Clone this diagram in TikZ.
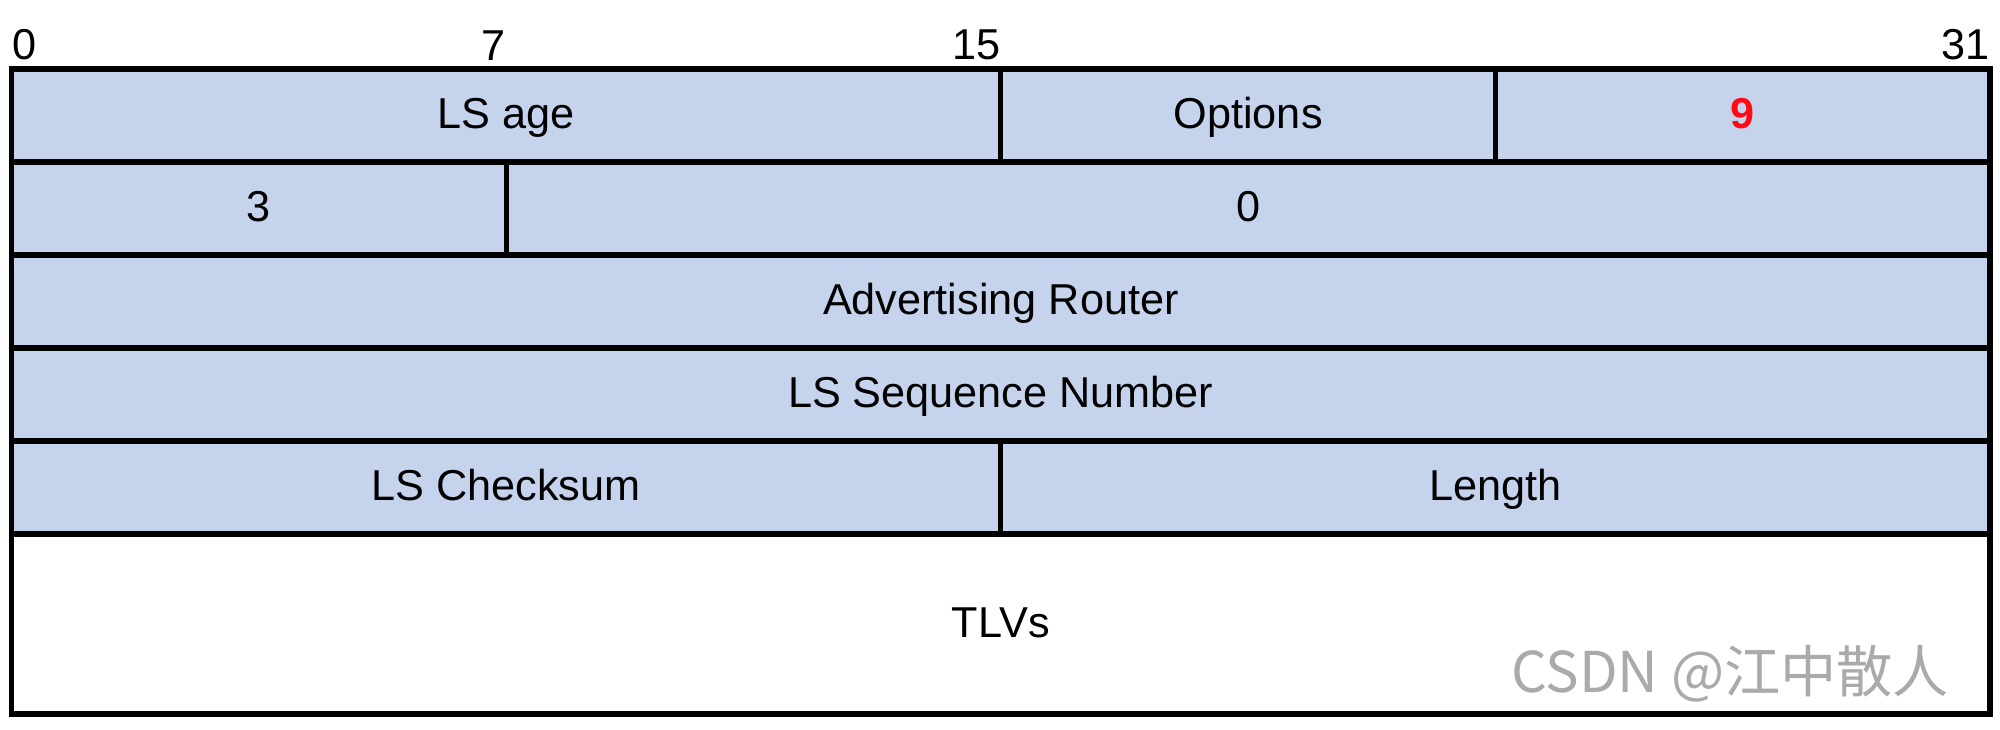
\documentclass[tikz,border=0pt]{standalone}
\usepackage{fontspec}
\setmainfont{Liberation Sans}
\newfontfamily\cjkfont{Noto Sans CJK SC}
\usetikzlibrary{positioning}
\definecolor{lsablue}{RGB}{197,211,236}
\definecolor{lsared}{RGB}{255,10,20}
\definecolor{markgray}{RGB}{170,170,170}
\tikzset{
  field/.style={draw=black, line width=1.5pt, fill=lsablue},
  fname/.style={font=\fontsize{12.3}{14}\selectfont, text height=8.8pt, text depth=0pt, inner sep=0pt, yshift=0.02cm},
  bitno/.style={font=\fontsize{12.3}{14}\selectfont, inner sep=0pt, yshift=0.08cm}
}
\begin{document}
\begin{tikzpicture}[x=0.6183cm, y=0.93cm]
\useasboundingbox (-0.186,0.742) rectangle (32.16,-7.097);
% bit numbers
\node[bitno, anchor=south west] (b0) at (0,0) {0};
\node[bitno, anchor=south east] (b7) at (8,0) {7};
\node[bitno, anchor=south east] (b15) at (16,0) {15};
\node[bitno, anchor=south east] (b31) at (32,0) {31};
% header rows
\draw[field] (0,0) rectangle (16,-1) node[fname, midway] (age) {LS age};
\draw[field] (16,0) rectangle (24,-1) node[fname, midway] (opts) {Options};
\draw[field] (24,0) rectangle (32,-1) node[fname, midway, text=lsared, font=\fontsize{12.3}{14}\selectfont\bfseries] (ltype) {9};
\draw[field] (0,-1) rectangle (8,-2) node[fname, midway] (otype) {3};
\draw[field] (8,-1) rectangle (32,-2) node[fname, midway] (oid) {0};
\draw[field] (0,-2) rectangle (32,-3) node[fname, midway] (adv) {Advertising Router};
\draw[field] (0,-3) rectangle (32,-4) node[fname, midway] (seq) {LS Sequence Number};
\draw[field] (0,-4) rectangle (16,-5) node[fname, midway] (csum) {LS Checksum};
\draw[field] (16,-4) rectangle (32,-5) node[fname, midway] (len) {Length};
% body
\draw[field, fill=white] (0,-5) rectangle (32,-6.935) node[fname, midway] (tlv) {TLVs};
\node[anchor=east, inner sep=0pt, text=markgray, font=\cjkfont\fontsize{16}{18}\selectfont] (mark) at (31.35,-6.5) {CSDN @江中散人};
\end{tikzpicture}
\end{document}
